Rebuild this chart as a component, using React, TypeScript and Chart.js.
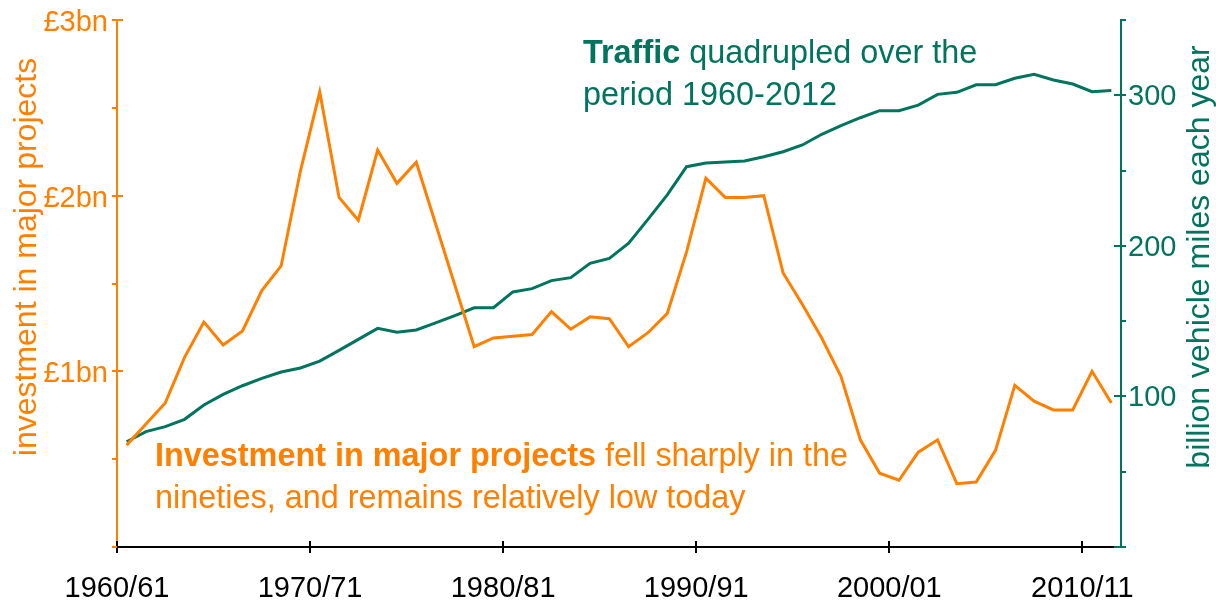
import React, { useEffect, useRef } from 'react';
import { Chart, registerables } from 'chart.js';

Chart.register(...registerables);

// ---------- data ----------
const YEARS = [
  '1960/61', '1961/62', '1962/63', '1963/64', '1964/65', '1965/66', '1966/67', '1967/68', '1968/69', '1969/70',
  '1970/71', '1971/72', '1972/73', '1973/74', '1974/75', '1975/76', '1976/77', '1977/78', '1978/79', '1979/80',
  '1980/81', '1981/82', '1982/83', '1983/84', '1984/85', '1985/86', '1986/87', '1987/88', '1988/89', '1989/90',
  '1990/91', '1991/92', '1992/93', '1993/94', '1994/95', '1995/96', '1996/97', '1997/98', '1998/99', '1999/00',
  '2000/01', '2001/02', '2002/03', '2003/04', '2004/05', '2005/06', '2006/07', '2007/08', '2008/09', '2009/10',
  '2010/11', '2011/12',
];

// £bn, left axis
const INVESTMENT_BN = [
  0.58, 0.70, 0.82, 1.08, 1.28, 1.15, 1.23, 1.46, 1.60, 2.14,
  2.59, 1.99, 1.86, 2.26, 2.07, 2.19, 1.84, 1.49, 1.14, 1.19,
  1.20, 1.21, 1.34, 1.24, 1.31, 1.30, 1.14, 1.22, 1.33, 1.68,
  2.10, 1.99, 1.99, 2.00, 1.56, 1.38, 1.19, 0.97, 0.61, 0.42,
  0.38, 0.54, 0.61, 0.36, 0.37, 0.55, 0.92, 0.83, 0.78, 0.78,
  1.00, 0.82,
];

// billion vehicle miles, right axis
const TRAFFIC_BVM = [
  69.9, 76.6, 79.9, 84.8, 94.3, 101.4, 107.1, 112.0, 116.2, 118.9,
  123.5, 130.6, 137.9, 145.2, 142.6, 144.1, 148.8, 153.7, 158.9, 158.9,
  169.4, 171.6, 176.9, 178.9, 188.4, 191.7, 201.7, 217.6, 233.8, 252.6,
  255.0, 255.7, 256.4, 259.2, 262.5, 267.0, 274.1, 279.8, 285.1, 289.8,
  289.8, 293.5, 300.6, 302.0, 307.0, 307.0, 311.3, 313.9, 310.2, 307.5,
  302.4, 303.1,
];

const X_TICK_POS = [0, 10, 20, 30, 40, 50];
const X_TICK_LABELS = ['1960/61', '1970/71', '1980/81', '1990/91', '2000/01', '2010/11'];

const LEFT_TICK_VALUES = [0, 0.5, 1, 1.5, 2, 2.5, 3];
const LEFT_TICK_LABELS = ['', '', '£1bn', '', '£2bn', '', '£3bn'];

const RIGHT_TICK_VALUES = [0, 50, 100, 150, 200, 250, 300, 350];
const RIGHT_TICK_LABELS = ['', '', '100', '', '200', '', '300', ''];

const LEFT_TITLE = 'investment in major projects';
const RIGHT_TITLE = 'billion vehicle miles each year';

const TRAFFIC_NOTE: [string, boolean][][] = [
  [['Traffic', true], [' quadrupled over the', false]],
  [['period 1960-2012', false]],
];
const INVEST_NOTE: [string, boolean][][] = [
  [['Investment in major projects', true], [' fell sharply in the', false]],
  [['nineties, and remains relatively low today', false]],
];

// ---------- styles ----------
const ORANGE = '#FF8000';
const GREEN = '#00745C';
const FONT = "'Liberation Sans', Arial, Helvetica, sans-serif";

const decorPlugin = {
  id: 'decor',
  afterDraw(chart: any) {
    const { ctx, chartArea: a, scales } = chart;
    const xs = scales.x;
    const yl = scales.yL;
    const yr = scales.yR;
    const line = (x1: number, y1: number, x2: number, y2: number) => {
      ctx.beginPath();
      ctx.moveTo(x1, y1);
      ctx.lineTo(x2, y2);
      ctx.stroke();
    };
    ctx.save();
    ctx.lineWidth = 2;
    ctx.lineCap = 'butt';

    // x ticks
    ctx.strokeStyle = '#000';
    X_TICK_POS.forEach((v) => {
      const px = Math.round(xs.getPixelForValue(v));
      line(px, a.bottom - 6, px, a.bottom + 6);
    });

    // left ticks
    ctx.strokeStyle = ORANGE;
    LEFT_TICK_VALUES.forEach((v, i) => {
      const py = Math.round(yl.getPixelForValue(v));
      const major = LEFT_TICK_LABELS[i] !== '';
      line(a.left - 5, py, major ? a.left + 6 : a.left, py);
    });

    // right ticks
    ctx.strokeStyle = GREEN;
    RIGHT_TICK_VALUES.forEach((v) => {
      const py = Math.round(yr.getPixelForValue(v));
      const major = v % 100 === 0;
      line(major ? a.right - 7 : a.right, py, a.right + 5, py);
    });

    // axis titles
    ctx.textAlign = 'center';
    ctx.textBaseline = 'alphabetic';
    ctx.fillStyle = ORANGE;
    ctx.font = `32px ${FONT}`;
    ctx.save();
    ctx.translate(36, 257);
    ctx.rotate(-Math.PI / 2);
    ctx.fillText(LEFT_TITLE, 0, 0);
    ctx.restore();

    ctx.fillStyle = GREEN;
    ctx.font = `32px ${FONT}`;
    ctx.save();
    ctx.translate(1209, 257);
    ctx.rotate(-Math.PI / 2);
    ctx.fillText(RIGHT_TITLE, 0, 0);
    ctx.restore();

    // annotations
    const drawRich = (lines: [string, boolean][][], x: number, y0: number, lh: number, color: string) => {
      ctx.textAlign = 'left';
      ctx.fillStyle = color;
      lines.forEach((parts, li) => {
        let cx = x;
        parts.forEach(([t, bold]) => {
          ctx.font = `${bold ? 'bold ' : ''}32.4px ${FONT}`;
          ctx.fillText(t, cx, y0 + li * lh);
          cx += ctx.measureText(t).width;
        });
      });
    };
    drawRich(TRAFFIC_NOTE, 583, 63, 42, GREEN);
    drawRich(INVEST_NOTE, 155, 466, 42, ORANGE);

    ctx.restore();
  },
};

export default function App() {
  const ref = useRef<HTMLCanvasElement | null>(null);

  useEffect(() => {
    if (!ref.current) return;
    const chart = new Chart(ref.current, {
      type: 'line',
      data: {
        datasets: [
          {
            label: 'Investment in major projects',
            data: INVESTMENT_BN.map((v, i) => ({ x: i + 0.5, y: v })),
            yAxisID: 'yL',
            borderColor: ORANGE,
            backgroundColor: ORANGE,
            borderWidth: 3,
            pointRadius: 0,
            tension: 0,
            order: 0,
          },
          {
            label: 'Traffic',
            data: TRAFFIC_BVM.map((v, i) => ({ x: i + 0.5, y: v })),
            yAxisID: 'yR',
            borderColor: GREEN,
            backgroundColor: GREEN,
            borderWidth: 3,
            pointRadius: 0,
            tension: 0,
            order: 1,
          },
        ],
      },
      options: {
        animation: false,
        responsive: false,
        devicePixelRatio: 1,
        layout: { padding: { top: 20, left: 0, right: 0, bottom: 0 } },
        plugins: { legend: { display: false }, tooltip: { enabled: false } },
        scales: {
          x: {
            type: 'linear',
            min: 0,
            max: YEARS.length,
            afterBuildTicks: (s: any) => {
              s.ticks = X_TICK_POS.map((v) => ({ value: v }));
            },
            afterFit: (s: any) => {
              s.height = 56;
              s.paddingLeft = 0;
              s.paddingRight = 0;
            },
            ticks: {
              callback: (_v: any, i: number) => X_TICK_LABELS[i],
              font: { family: FONT, size: 29 },
              color: '#000',
              padding: 25,
              maxRotation: 0,
              autoSkip: false,
            },
            grid: { drawOnChartArea: false, drawTicks: false },
            border: { display: true, color: '#000', width: 2 },
          },
          yL: {
            type: 'linear',
            position: 'left',
            min: 0,
            max: 3,
            afterBuildTicks: (s: any) => {
              s.ticks = LEFT_TICK_VALUES.map((v) => ({ value: v }));
            },
            afterFit: (s: any) => {
              s.width = 117;
              s.paddingTop = 0;
              s.paddingBottom = 0;
            },
            ticks: {
              callback: (_v: any, i: number) => LEFT_TICK_LABELS[i],
              font: { family: FONT, size: 29 },
              color: ORANGE,
              padding: 9,
              labelOffset: 3,
              autoSkip: false,
            },
            grid: { drawOnChartArea: false, drawTicks: false },
            border: { display: true, color: ORANGE, width: 2 },
          },
          yR: {
            type: 'linear',
            position: 'right',
            min: 0,
            max: 350,
            afterBuildTicks: (s: any) => {
              s.ticks = RIGHT_TICK_VALUES.map((v) => ({ value: v }));
            },
            afterFit: (s: any) => {
              s.width = 95;
              s.paddingTop = 0;
              s.paddingBottom = 0;
            },
            ticks: {
              callback: (_v: any, i: number) => RIGHT_TICK_LABELS[i],
              font: { family: FONT, size: 29 },
              color: GREEN,
              padding: 7,
              labelOffset: 2,
              autoSkip: false,
            },
            grid: { drawOnChartArea: false, drawTicks: false },
            border: { display: true, color: GREEN, width: 2 },
          },
        },
      },
      plugins: [decorPlugin],
    } as any);
    return () => chart.destroy();
  }, []);

  return (
    <div style={{ position: 'absolute', left: 0, top: 0, width: 1216, height: 603, background: '#fff' }}>
      <canvas ref={ref} width={1216} height={603} />
    </div>
  );
}
